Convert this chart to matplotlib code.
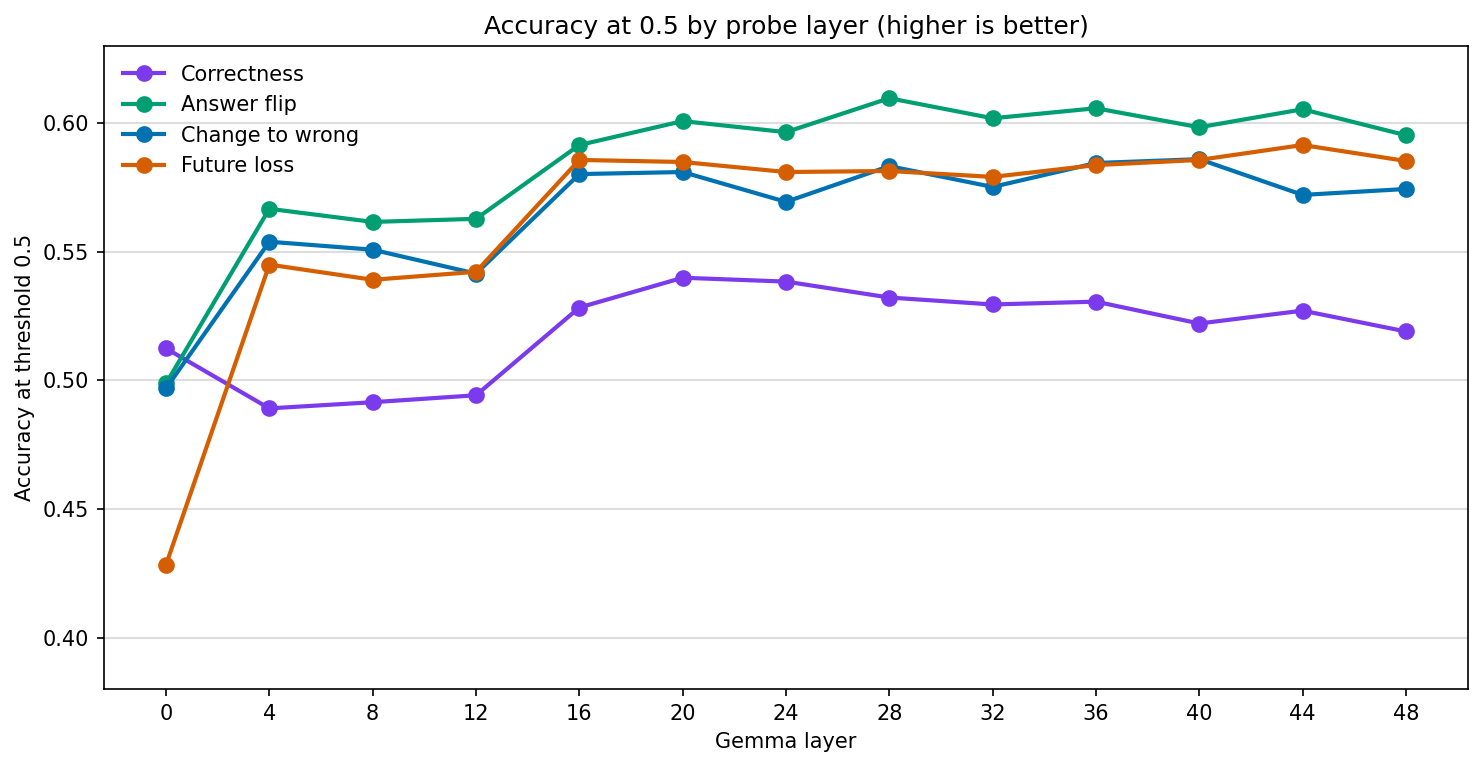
import matplotlib
matplotlib.use("Agg")
import matplotlib.pyplot as plt

layers = [0, 4, 8, 12, 16, 20, 24, 28, 32, 36, 40, 44, 48]

correctness = [0.5124, 0.4891, 0.4915, 0.4942, 0.5283, 0.5399, 0.5384,
               0.5322, 0.5295, 0.5306, 0.5221, 0.5271, 0.5190]
answer_flip = [0.4988, 0.5667, 0.5616, 0.5628, 0.5915, 0.6008, 0.5965,
               0.6097, 0.6019, 0.6058, 0.5984, 0.6054, 0.5953]
change_to_wrong = [0.4969, 0.5539, 0.5508, 0.5415, 0.5802, 0.5810, 0.5694,
                   0.5833, 0.5752, 0.5845, 0.5860, 0.5721, 0.5744]
future_loss = [0.4283, 0.5450, 0.5391, 0.5422, 0.5857, 0.5849, 0.5810,
               0.5814, 0.5791, 0.5837, 0.5857, 0.5915, 0.5853]

series = [
    ("Correctness", correctness, "#7c3aed"),
    ("Answer flip", answer_flip, "#009e73"),
    ("Change to wrong", change_to_wrong, "#0072b2"),
    ("Future loss", future_loss, "#d55e00"),
]

fig, ax = plt.subplots(figsize=(9.893, 5.12), dpi=150)

for name, vals, color in series:
    ax.plot(layers, vals, marker="o", color=color, linewidth=2,
            markersize=7, label=name)

ax.set_title("Accuracy at 0.5 by probe layer (higher is better)")
ax.set_xlabel("Gemma layer")
ax.set_ylabel("Accuracy at threshold 0.5")
ax.set_xticks(layers)
ax.set_ylim(0.38, 0.63)
ax.set_yticks([0.40, 0.45, 0.50, 0.55, 0.60])
ax.grid(axis="y", color="#dddddd", linewidth=1)
ax.set_axisbelow(True)
ax.legend(loc="upper left", frameon=False)

fig.subplots_adjust(left=0.0701, right=0.9892, top=0.9401, bottom=0.1029)
fig.savefig("out.png", dpi=150)
